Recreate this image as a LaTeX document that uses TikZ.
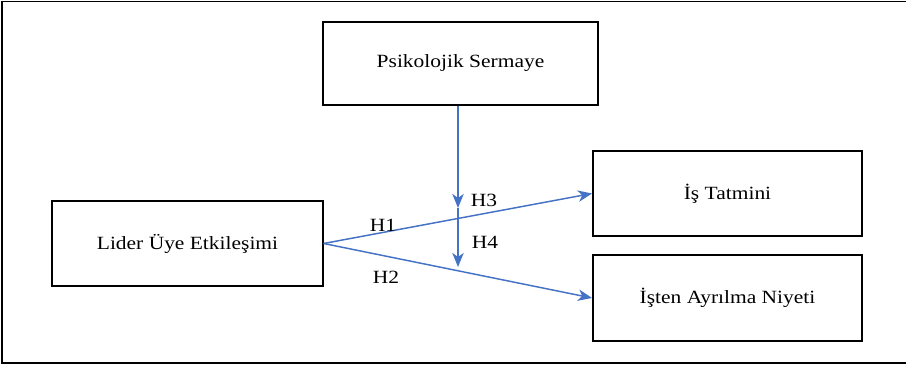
\documentclass[tikz,border=0pt]{standalone}
\usepackage{fontspec}
\setmainfont{Liberation Serif}
\usepackage{tikz}
\usetikzlibrary{positioning,arrows.meta}
\definecolor{lineblue}{RGB}{68,114,196}
\tikzset{every picture/.style={line width=0.75pt}}
\newcommand{\wtxt}[1]{\scalebox{1.15}[1]{#1}}
\tikzset{
  box/.style={draw, line width=1.2pt, inner sep=0pt, minimum width=202pt, minimum height=64pt,
              font=\fontsize{14}{16}\selectfont},
  hyp/.style={draw=lineblue, line width=1.1pt, -{Stealth[length=10.5pt,width=8.5pt,inset=3pt]}},
  hlabel/.style={inner sep=0.75pt, font=\fontsize{14}{16}\selectfont}
}

\begin{document}
\begin{tikzpicture}[x=0.75pt,y=0.75pt,yscale=-1,xscale=1]
\useasboundingbox (0,0) rectangle (906,366);

% outer frame (open on the right)
\draw [line width=1.1pt] (906,1.5) -- (2,1.5) -- (2,363) -- (906,363);

% boxes
\node [box, minimum width=206pt, minimum height=62pt] (ps) at (460.5,63.5) {\wtxt{Psikolojik Sermaye}};
\node [box, minimum width=203pt] (lue) at (187.5,243.5) {\wtxt{Lider Üye Etkileşimi}};
\node [box] (ist) at (727.5,193.5) {\wtxt{İş Tatmini}};
\node [box, minimum height=64.5pt] (ian) at (727.5,298) {\wtxt{İşten Ayrılma Niyeti}};

% main effects
\draw [hyp] (lue.east) -- (ist.west);
\draw [hyp] (lue.east) -- (ian.west);

% moderation
\coordinate (h3tip) at (458,208);
\coordinate (h4tip) at (458,267);
\draw [hyp, line width=1.5pt] (ps.south -| h3tip) -- (h3tip);
\draw [hyp, line width=1.5pt] (h3tip) -- (h4tip);

% labels
\node [hlabel] (h1) at (383,225) {\wtxt{H1}};
\node [hlabel] (h2) at (386,277) {\wtxt{H2}};
\node [hlabel] (h3) at (484,200) {\wtxt{H3}};
\node [hlabel] (h4) at (485,242) {\wtxt{H4}};

\end{tikzpicture}
\end{document}
